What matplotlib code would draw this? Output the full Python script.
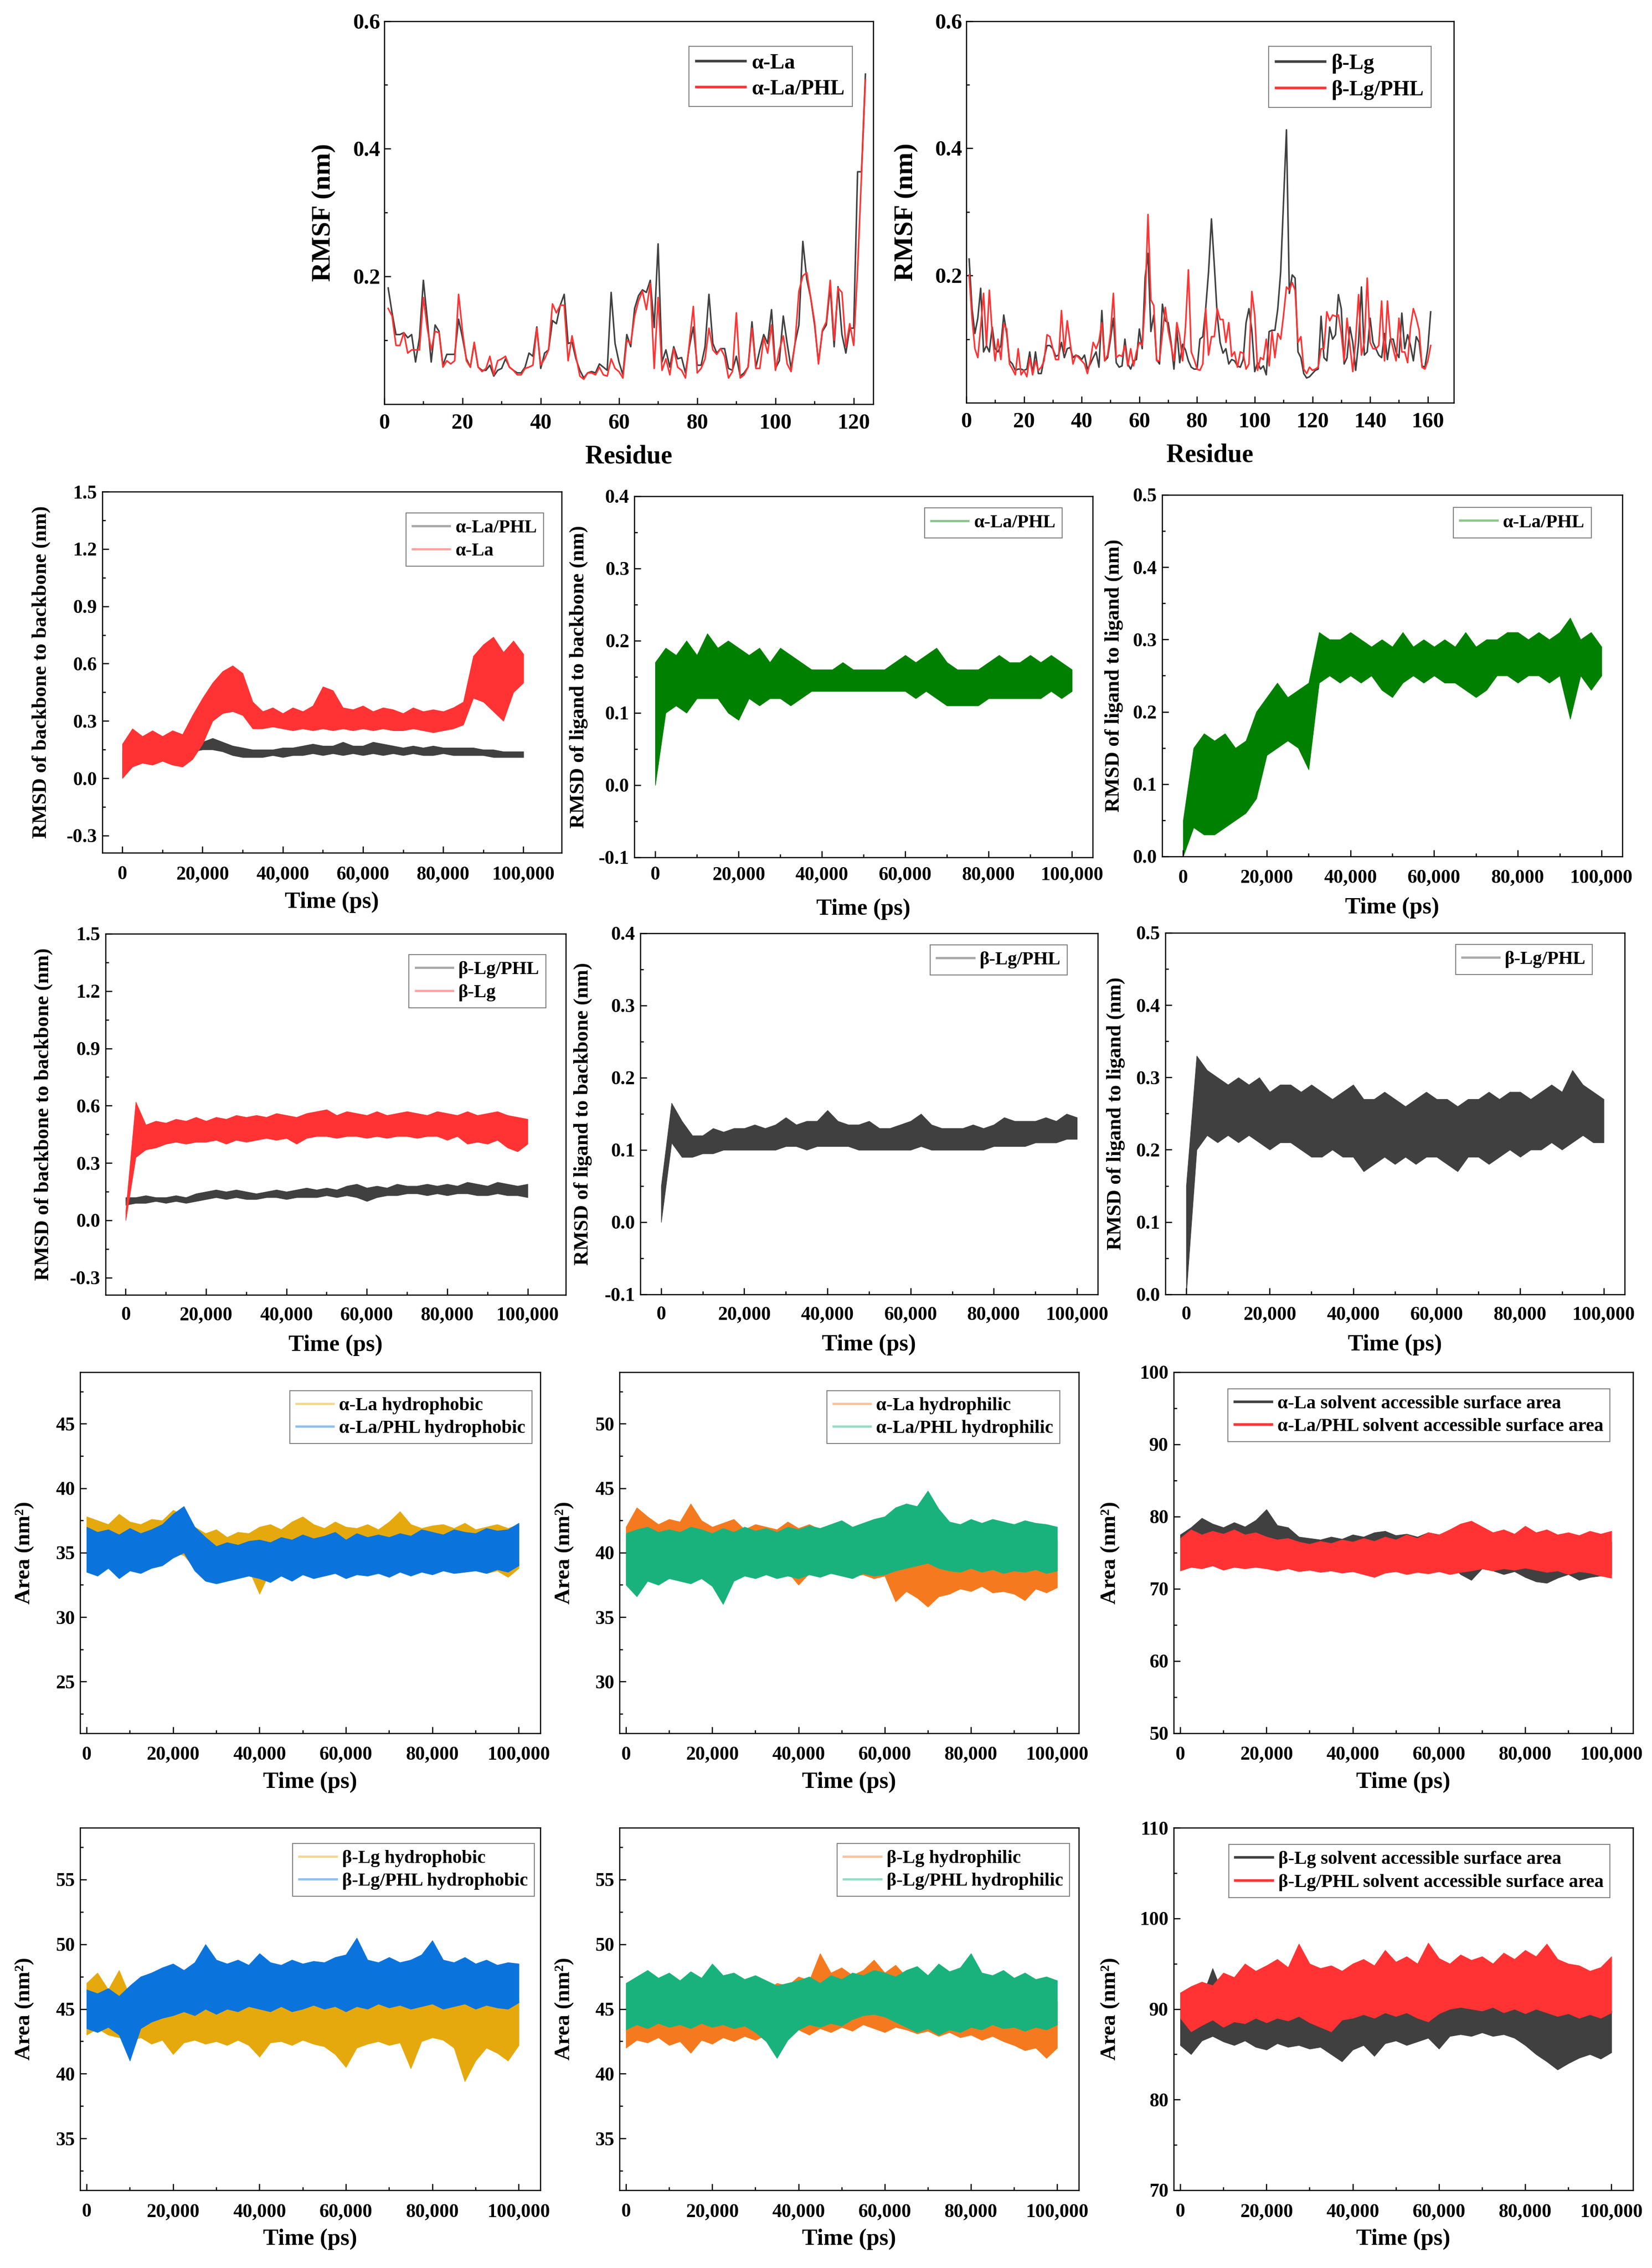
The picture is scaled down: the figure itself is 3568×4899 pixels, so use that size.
import matplotlib
matplotlib.use("Agg")
import matplotlib.pyplot as plt
import numpy as np
from matplotlib.lines import Line2D
from matplotlib.ticker import AutoMinorLocator, FixedLocator, FormatStrFormatter, FuncFormatter, MultipleLocator

plt.rcParams["font.family"] = ["Liberation Serif", "DejaVu Serif"]
plt.rcParams["font.weight"] = "bold"
plt.rcParams["axes.labelweight"] = "bold"
plt.rcParams["axes.unicode_minus"] = False

GRAY = "#404040"
RED = "#ff3333"
GREEN = "#008000"
GOLD = "#e5a90d"
BLUE = "#0b74dc"
ORANGE = "#f57a1f"
TEAL = "#19b27c"

# ---------------- RMSF (per residue) ----------------
la_rmsf = [
    0.182, 0.143, 0.109, 0.109, 0.112, 0.104, 0.109, 0.066, 0.104, 0.194,
    0.133, 0.066, 0.124, 0.114, 0.061, 0.078, 0.078, 0.078, 0.133, 0.104,
    0.071, 0.058, 0.095, 0.058, 0.053, 0.053, 0.061, 0.044, 0.053, 0.056,
    0.071, 0.058, 0.053, 0.049, 0.049, 0.058, 0.080, 0.075, 0.121, 0.056,
    0.080, 0.085, 0.131, 0.126, 0.155, 0.172, 0.095, 0.097, 0.071, 0.053,
    0.041, 0.049, 0.051, 0.049, 0.063, 0.058, 0.053, 0.175, 0.095, 0.066,
    0.046, 0.109, 0.090, 0.150, 0.170, 0.179, 0.175, 0.194, 0.120, 0.251,
    0.066, 0.085, 0.058, 0.090, 0.071, 0.073, 0.049, 0.090, 0.121, 0.061,
    0.061, 0.090, 0.172, 0.095, 0.080, 0.087, 0.087, 0.056, 0.053, 0.075,
    0.044, 0.049, 0.058, 0.129, 0.058, 0.085, 0.109, 0.095, 0.148, 0.056,
    0.068, 0.138, 0.095, 0.056, 0.095, 0.124, 0.255, 0.196, 0.167, 0.124,
    0.066, 0.114, 0.124, 0.184, 0.090, 0.184, 0.109, 0.080, 0.119, 0.119,
    0.364, 0.364, 0.517]
la_phl_rmsf = [
    0.150, 0.138, 0.092, 0.092, 0.112, 0.080, 0.085, 0.085, 0.085, 0.167,
    0.119, 0.085, 0.114, 0.112, 0.058, 0.068, 0.063, 0.068, 0.172, 0.114,
    0.068, 0.058, 0.097, 0.058, 0.051, 0.056, 0.075, 0.046, 0.068, 0.071,
    0.075, 0.058, 0.053, 0.046, 0.046, 0.056, 0.058, 0.061, 0.119, 0.061,
    0.071, 0.085, 0.157, 0.143, 0.155, 0.155, 0.068, 0.107, 0.075, 0.044,
    0.039, 0.049, 0.049, 0.046, 0.058, 0.046, 0.044, 0.071, 0.056, 0.051,
    0.041, 0.100, 0.095, 0.138, 0.162, 0.177, 0.148, 0.189, 0.056, 0.167,
    0.053, 0.071, 0.046, 0.087, 0.058, 0.053, 0.041, 0.095, 0.153, 0.049,
    0.056, 0.071, 0.119, 0.085, 0.078, 0.087, 0.075, 0.041, 0.051, 0.143,
    0.041, 0.046, 0.058, 0.119, 0.056, 0.056, 0.104, 0.080, 0.124, 0.053,
    0.085, 0.107, 0.063, 0.051, 0.095, 0.177, 0.201, 0.206, 0.167, 0.129,
    0.063, 0.116, 0.129, 0.194, 0.100, 0.182, 0.175, 0.090, 0.126, 0.092,
    0.211, 0.360, 0.508]
lg_rmsf = [
    0.226, 0.148, 0.109, 0.133, 0.180, 0.080, 0.090, 0.080, 0.119, 0.085,
    0.080, 0.090, 0.138, 0.109, 0.066, 0.061, 0.051, 0.053, 0.053, 0.051,
    0.053, 0.080, 0.046, 0.080, 0.046, 0.046, 0.071, 0.090, 0.090, 0.085,
    0.073, 0.075, 0.095, 0.071, 0.085, 0.087, 0.071, 0.075, 0.073, 0.068,
    0.075, 0.053, 0.061, 0.071, 0.080, 0.056, 0.145, 0.066, 0.071, 0.100,
    0.133, 0.063, 0.056, 0.058, 0.100, 0.061, 0.053, 0.066, 0.068, 0.116,
    0.085, 0.197, 0.235, 0.112, 0.138, 0.068, 0.061, 0.155, 0.129, 0.126,
    0.095, 0.053, 0.114, 0.063, 0.092, 0.083, 0.066, 0.056, 0.053, 0.053,
    0.100, 0.104, 0.148, 0.206, 0.289, 0.216, 0.138, 0.095, 0.078, 0.085,
    0.061, 0.068, 0.066, 0.058, 0.056, 0.068, 0.126, 0.148, 0.114, 0.049,
    0.063, 0.053, 0.058, 0.044, 0.112, 0.114, 0.114, 0.148, 0.206, 0.318,
    0.429, 0.172, 0.201, 0.196, 0.080, 0.071, 0.046, 0.039, 0.041, 0.046,
    0.051, 0.053, 0.136, 0.071, 0.066, 0.119, 0.100, 0.107, 0.170, 0.148,
    0.061, 0.071, 0.119, 0.095, 0.051, 0.095, 0.182, 0.075, 0.080, 0.133,
    0.095, 0.085, 0.075, 0.071, 0.109, 0.068, 0.100, 0.100, 0.080, 0.071,
    0.141, 0.085, 0.107, 0.090, 0.066, 0.104, 0.095, 0.058, 0.056, 0.085,
    0.143]
lg_phl_rmsf = [
    0.201, 0.133, 0.085, 0.071, 0.119, 0.172, 0.090, 0.177, 0.109, 0.066,
    0.100, 0.068, 0.124, 0.116, 0.061, 0.053, 0.044, 0.085, 0.044, 0.051,
    0.041, 0.071, 0.044, 0.066, 0.051, 0.056, 0.066, 0.107, 0.104, 0.085,
    0.068, 0.068, 0.145, 0.080, 0.129, 0.095, 0.061, 0.075, 0.071, 0.066,
    0.061, 0.046, 0.066, 0.095, 0.085, 0.097, 0.126, 0.066, 0.075, 0.109,
    0.172, 0.071, 0.075, 0.073, 0.090, 0.058, 0.085, 0.058, 0.080, 0.095,
    0.090, 0.157, 0.296, 0.162, 0.153, 0.066, 0.066, 0.109, 0.150, 0.114,
    0.090, 0.066, 0.126, 0.104, 0.066, 0.119, 0.209, 0.080, 0.068, 0.053,
    0.051, 0.061, 0.148, 0.075, 0.104, 0.104, 0.148, 0.131, 0.131, 0.095,
    0.126, 0.073, 0.080, 0.056, 0.080, 0.078, 0.053, 0.061, 0.175, 0.138,
    0.051, 0.071, 0.068, 0.100, 0.058, 0.112, 0.071, 0.109, 0.100, 0.138,
    0.182, 0.177, 0.189, 0.177, 0.095, 0.104, 0.053, 0.046, 0.056, 0.051,
    0.053, 0.056, 0.085, 0.085, 0.143, 0.129, 0.138, 0.136, 0.138, 0.109,
    0.066, 0.133, 0.090, 0.049, 0.100, 0.170, 0.075, 0.095, 0.196, 0.095,
    0.085, 0.085, 0.090, 0.160, 0.066, 0.160, 0.104, 0.085, 0.066, 0.133,
    0.080, 0.080, 0.063, 0.119, 0.148, 0.133, 0.114, 0.056, 0.053, 0.066,
    0.090]

# ---------------- time traces: upper / lower edge of the noise band, every 2500 ps ----------------
time_ps = np.arange(0, 100001, 2500)

# RMSD backbone-backbone, alpha-La
la_bb_hi = [0.18, 0.26, 0.22, 0.25, 0.22, 0.25, 0.23, 0.33, 0.42, 0.50, 0.56, 0.59, 0.55, 0.40, 0.35, 0.37, 0.34, 0.37, 0.35, 0.38, 0.48,
            0.46, 0.37, 0.36, 0.38, 0.35, 0.37, 0.36, 0.34, 0.37, 0.35, 0.36, 0.35, 0.37, 0.40, 0.64, 0.70, 0.74, 0.66, 0.72, 0.65]
la_bb_lo = [0.00, 0.06, 0.08, 0.07, 0.09, 0.07, 0.06, 0.10, 0.18, 0.30, 0.34, 0.35, 0.33, 0.26, 0.26, 0.27, 0.26, 0.25, 0.26, 0.25, 0.26,
            0.25, 0.26, 0.25, 0.26, 0.25, 0.26, 0.25, 0.25, 0.26, 0.25, 0.24, 0.25, 0.26, 0.28, 0.42, 0.40, 0.35, 0.30, 0.45, 0.50]
la_phl_bb_hi = [0.14, 0.18, 0.17, 0.18, 0.17, 0.18, 0.17, 0.19, 0.19, 0.21, 0.19, 0.17, 0.16, 0.15, 0.15, 0.15, 0.16, 0.16, 0.17, 0.18, 0.17,
                0.17, 0.19, 0.17, 0.17, 0.19, 0.18, 0.17, 0.16, 0.17, 0.16, 0.17, 0.16, 0.16, 0.16, 0.16, 0.15, 0.15, 0.14, 0.14, 0.14]
la_phl_bb_lo = [0.02, 0.10, 0.11, 0.10, 0.11, 0.10, 0.12, 0.14, 0.15, 0.15, 0.14, 0.12, 0.11, 0.11, 0.11, 0.12, 0.11, 0.12, 0.12, 0.13, 0.12,
                0.13, 0.12, 0.13, 0.12, 0.13, 0.12, 0.13, 0.12, 0.13, 0.12, 0.12, 0.13, 0.12, 0.12, 0.12, 0.12, 0.11, 0.11, 0.11, 0.11]
# RMSD ligand to backbone / ligand to ligand, alpha-La/PHL
la_lb_hi = [0.17, 0.19, 0.18, 0.20, 0.18, 0.21, 0.19, 0.20, 0.19, 0.18, 0.19, 0.17, 0.19, 0.18, 0.17, 0.16, 0.16, 0.16, 0.17, 0.16, 0.16,
            0.16, 0.16, 0.17, 0.18, 0.17, 0.18, 0.19, 0.17, 0.16, 0.16, 0.16, 0.17, 0.18, 0.17, 0.17, 0.18, 0.17, 0.18, 0.17, 0.16]
la_lb_lo = [0.00, 0.10, 0.11, 0.10, 0.12, 0.12, 0.12, 0.10, 0.09, 0.12, 0.11, 0.12, 0.12, 0.11, 0.12, 0.13, 0.13, 0.13, 0.13, 0.13, 0.13,
            0.13, 0.13, 0.13, 0.13, 0.12, 0.13, 0.12, 0.11, 0.11, 0.11, 0.11, 0.12, 0.12, 0.12, 0.12, 0.12, 0.12, 0.13, 0.12, 0.13]
la_ll_hi = [0.05, 0.15, 0.17, 0.16, 0.17, 0.15, 0.16, 0.20, 0.22, 0.24, 0.22, 0.23, 0.24, 0.31, 0.30, 0.30, 0.31, 0.30, 0.29, 0.30, 0.29,
            0.31, 0.29, 0.30, 0.29, 0.30, 0.29, 0.31, 0.29, 0.30, 0.30, 0.31, 0.31, 0.30, 0.31, 0.30, 0.31, 0.33, 0.30, 0.31, 0.29]
la_ll_lo = [0.00, 0.04, 0.03, 0.03, 0.04, 0.05, 0.06, 0.08, 0.14, 0.15, 0.16, 0.15, 0.12, 0.24, 0.25, 0.24, 0.25, 0.24, 0.25, 0.23, 0.22,
            0.24, 0.25, 0.24, 0.25, 0.24, 0.24, 0.23, 0.22, 0.23, 0.25, 0.25, 0.24, 0.25, 0.25, 0.24, 0.25, 0.19, 0.25, 0.23, 0.25]

# RMSD backbone-backbone, beta-Lg
lg_bb_hi = [0.05, 0.62, 0.50, 0.52, 0.51, 0.53, 0.52, 0.54, 0.52, 0.54, 0.53, 0.55, 0.54, 0.55, 0.54, 0.56, 0.55, 0.54, 0.56, 0.57, 0.58,
            0.55, 0.57, 0.56, 0.55, 0.57, 0.55, 0.56, 0.57, 0.56, 0.55, 0.57, 0.56, 0.55, 0.57, 0.55, 0.56, 0.57, 0.55, 0.54, 0.53]
lg_bb_lo = [0.00, 0.33, 0.37, 0.38, 0.40, 0.41, 0.40, 0.41, 0.41, 0.42, 0.40, 0.42, 0.41, 0.42, 0.43, 0.42, 0.43, 0.40, 0.43, 0.44, 0.44,
            0.43, 0.44, 0.44, 0.43, 0.44, 0.43, 0.44, 0.44, 0.43, 0.44, 0.44, 0.42, 0.44, 0.40, 0.41, 0.40, 0.42, 0.38, 0.36, 0.40]
lg_phl_bb_hi = [0.12, 0.12, 0.13, 0.12, 0.12, 0.13, 0.12, 0.14, 0.15, 0.16, 0.15, 0.16, 0.15, 0.14, 0.15, 0.16, 0.15, 0.16, 0.17, 0.16, 0.17,
                0.16, 0.18, 0.19, 0.17, 0.18, 0.17, 0.19, 0.18, 0.18, 0.19, 0.18, 0.19, 0.18, 0.20, 0.19, 0.18, 0.20, 0.19, 0.18, 0.19]
lg_phl_bb_lo = [0.08, 0.09, 0.09, 0.10, 0.09, 0.10, 0.09, 0.10, 0.11, 0.12, 0.11, 0.12, 0.11, 0.11, 0.12, 0.12, 0.11, 0.12, 0.12, 0.12, 0.13,
                0.12, 0.13, 0.12, 0.10, 0.12, 0.13, 0.13, 0.14, 0.14, 0.13, 0.14, 0.13, 0.14, 0.14, 0.13, 0.13, 0.14, 0.13, 0.13, 0.12]
# RMSD ligand to backbone / ligand to ligand, beta-Lg/PHL
lg_lb_hi = [0.05, 0.165, 0.14, 0.12, 0.12, 0.13, 0.125, 0.13, 0.13, 0.135, 0.13, 0.135, 0.145, 0.135, 0.14, 0.14, 0.155, 0.14, 0.135, 0.135,
            0.14, 0.13, 0.13, 0.135, 0.14, 0.15, 0.135, 0.13, 0.13, 0.13, 0.135, 0.13, 0.135, 0.145, 0.14, 0.14, 0.14, 0.145, 0.14, 0.15, 0.145]
lg_lb_lo = [0.00, 0.11, 0.09, 0.09, 0.095, 0.095, 0.10, 0.10, 0.10, 0.10, 0.10, 0.10, 0.105, 0.105, 0.10, 0.105, 0.105, 0.105, 0.105, 0.10,
            0.10, 0.10, 0.10, 0.10, 0.10, 0.105, 0.10, 0.10, 0.10, 0.10, 0.10, 0.10, 0.105, 0.105, 0.105, 0.105, 0.11, 0.11, 0.11, 0.115, 0.115]
lg_ll_hi = [0.15, 0.33, 0.31, 0.30, 0.29, 0.30, 0.29, 0.30, 0.28, 0.29, 0.29, 0.28, 0.29, 0.28, 0.27, 0.28, 0.29, 0.27, 0.27, 0.28, 0.27,
            0.26, 0.27, 0.28, 0.27, 0.27, 0.26, 0.27, 0.27, 0.28, 0.27, 0.28, 0.28, 0.27, 0.28, 0.29, 0.28, 0.31, 0.29, 0.28, 0.27]
lg_ll_lo = [0.00, 0.20, 0.22, 0.21, 0.22, 0.21, 0.22, 0.21, 0.20, 0.21, 0.21, 0.20, 0.19, 0.19, 0.20, 0.19, 0.19, 0.17, 0.18, 0.19, 0.18,
            0.19, 0.18, 0.19, 0.19, 0.18, 0.17, 0.19, 0.19, 0.18, 0.19, 0.20, 0.19, 0.20, 0.20, 0.21, 0.20, 0.21, 0.22, 0.21, 0.21]

# SASA alpha-La (nm^2)
la_phob_hi = [37.8, 37.5, 37.2, 38.0, 37.4, 37.2, 37.6, 37.5, 38.3, 37.9, 37.0, 36.5, 36.8, 36.2, 36.6, 36.5, 37.0, 37.2, 36.8, 37.4, 37.8,
              37.2, 36.9, 37.4, 37.0, 36.9, 37.2, 36.8, 37.4, 38.2, 37.2, 36.9, 37.1, 37.2, 36.9, 37.3, 36.8, 37.0, 37.2, 36.9, 37.2]
la_phob_lo = [34.0, 33.8, 34.2, 33.5, 34.2, 33.8, 34.4, 34.5, 35.0, 34.8, 33.8, 33.6, 33.4, 33.8, 33.5, 33.7, 31.8, 33.6, 33.5, 33.8, 33.4,
              33.8, 33.6, 33.9, 33.6, 33.8, 33.5, 33.7, 33.6, 33.8, 33.5, 33.8, 33.7, 33.6, 33.9, 33.5, 33.8, 33.4, 33.6, 33.1, 33.8]
la_phl_phob_hi = [37.0, 36.6, 36.8, 36.4, 36.9, 36.5, 36.8, 37.2, 38.0, 38.6, 37.0, 36.2, 35.5, 35.8, 35.6, 35.9, 36.0, 35.8, 36.2, 36.0, 36.4,
                  36.1, 36.3, 36.6, 36.0, 36.5, 36.2, 36.4, 36.2, 36.5, 36.3, 36.8, 36.6, 36.4, 36.8, 36.6, 36.5, 36.9, 36.7, 36.8, 37.3]
la_phl_phob_lo = [33.5, 33.2, 33.8, 33.0, 33.6, 33.4, 33.8, 34.0, 34.6, 35.0, 33.6, 32.8, 32.6, 32.8, 33.0, 33.2, 33.0, 32.7, 33.2, 32.8, 33.3,
                  33.0, 33.2, 33.4, 33.0, 33.3, 33.2, 33.4, 33.1, 33.5, 33.2, 33.5, 33.3, 33.6, 33.4, 33.5, 33.6, 33.4, 33.7, 33.5, 34.0]
la_phil_hi = [42.0, 43.5, 42.8, 42.2, 42.6, 42.4, 43.8, 42.5, 42.0, 42.3, 42.6, 41.8, 42.2, 42.0, 41.8, 42.4, 41.9, 42.2, 41.8, 42.0, 42.2,
              41.6, 41.9, 42.0, 41.5, 41.8, 41.0, 40.8, 41.2, 41.5, 40.8, 41.6, 41.2, 41.6, 41.0, 41.3, 41.0, 41.5, 41.2, 41.6, 41.0]
la_phil_lo = [38.5, 38.8, 38.6, 39.0, 38.5, 38.8, 38.6, 38.9, 38.4, 38.6, 38.3, 38.7, 38.4, 38.6, 38.3, 38.5, 37.5, 38.4, 38.3, 38.6, 38.4,
              38.2, 38.3, 38.0, 38.2, 36.2, 37.0, 36.5, 35.8, 36.6, 36.8, 37.2, 37.0, 37.4, 36.9, 37.0, 36.8, 36.3, 37.2, 36.9, 37.3]
la_phl_phil_hi = [41.5, 41.8, 42.0, 41.6, 41.8, 41.6, 42.0, 41.8, 41.5, 41.9, 41.6, 42.0, 41.7, 41.9, 41.6, 42.0, 41.8, 42.1, 41.9, 42.2, 42.5,
                  42.0, 42.3, 42.6, 42.8, 43.5, 43.8, 43.6, 44.8, 43.4, 42.4, 42.2, 42.6, 42.3, 42.6, 42.4, 42.2, 42.5, 42.3, 42.2, 42.0]
la_phl_phil_lo = [37.5, 36.6, 37.8, 37.5, 38.0, 37.8, 37.6, 38.0, 37.4, 36.0, 37.8, 38.2, 38.0, 38.3, 38.0, 38.2, 38.0, 38.3, 38.1, 38.4, 38.2,
                  38.0, 38.4, 38.2, 38.3, 38.6, 38.8, 39.0, 39.2, 38.8, 38.6, 38.5, 38.8, 38.5, 38.7, 38.4, 38.6, 38.5, 38.7, 38.4, 38.6]
la_sasa_hi = [77.5, 78.5, 79.8, 79.0, 78.5, 79.2, 78.6, 79.5, 81.0, 78.8, 78.5, 77.2, 77.0, 76.8, 77.2, 76.9, 77.5, 77.2, 77.8, 78.0, 77.4,
              77.6, 77.2, 77.8, 77.5, 77.2, 77.6, 77.3, 77.0, 76.5, 76.2, 76.6, 76.0, 76.4, 76.1, 75.8, 76.3, 76.0, 75.8, 76.2, 76.5]
la_sasa_lo = [73.5, 74.0, 74.5, 74.2, 74.5, 74.0, 74.3, 74.0, 74.2, 74.0, 73.8, 73.2, 73.0, 73.4, 73.1, 73.5, 73.3, 73.6, 73.4, 73.8, 73.5,
              73.2, 73.6, 73.4, 73.2, 73.5, 72.0, 71.2, 72.8, 72.5, 72.0, 72.4, 71.6, 71.0, 70.8, 71.5, 72.0, 71.2, 71.6, 71.8, 72.0]
la_phl_sasa_hi = [77.0, 78.2, 77.5, 78.0, 77.6, 78.2, 77.5, 77.8, 77.2, 76.8, 77.0, 76.5, 76.2, 76.6, 76.3, 76.8, 76.5, 77.0, 76.6, 77.2, 76.8,
                  77.5, 77.0, 77.8, 77.5, 78.2, 79.0, 79.4, 78.6, 77.8, 78.2, 77.6, 78.7, 77.8, 78.2, 77.5, 77.8, 77.4, 78.0, 77.6, 78.0]
la_phl_sasa_lo = [72.5, 73.0, 72.8, 73.2, 72.6, 73.0, 72.8, 73.0, 72.8, 72.5, 72.8, 72.4, 72.6, 72.3, 72.5, 72.2, 72.4, 72.0, 71.6, 72.2, 72.4,
                  72.0, 72.3, 72.1, 72.4, 72.0, 72.3, 72.5, 72.8, 72.5, 72.8, 72.6, 72.9, 72.6, 72.3, 72.5, 72.0, 72.4, 72.2, 71.8, 71.5]

# SASA beta-Lg (nm^2)
lg_phob_hi = [47.0, 47.8, 46.5, 48.0, 46.0, 45.5, 46.2, 45.4, 45.6, 45.2, 45.8, 45.3, 45.6, 45.2, 45.8, 45.4, 45.6, 45.3, 45.7, 45.5, 45.8,
              45.4, 45.6, 46.0, 45.5, 46.2, 45.8, 45.5, 46.0, 45.6, 45.8, 45.4, 46.0, 45.9, 45.5, 45.8, 46.1, 45.4, 45.8, 45.5, 45.6]
lg_phob_lo = [43.0, 43.5, 43.0, 42.8, 42.5, 42.8, 42.3, 42.6, 41.5, 42.4, 42.6, 42.3, 42.5, 42.2, 42.6, 42.2, 41.3, 42.4, 42.5, 42.2, 42.6,
              42.3, 42.1, 41.5, 40.5, 42.0, 42.3, 42.5, 42.2, 42.4, 40.4, 42.5, 42.8, 42.6, 42.0, 39.4, 41.0, 42.0, 41.6, 41.0, 42.2]
lg_phl_phob_hi = [46.5, 46.2, 46.6, 46.0, 46.8, 47.5, 47.8, 48.2, 48.5, 48.0, 48.6, 50.0, 48.8, 48.5, 48.8, 48.4, 49.3, 48.6, 48.4, 48.8, 48.5,
                  48.7, 48.6, 49.0, 49.2, 50.5, 48.8, 48.6, 49.0, 48.6, 48.8, 49.2, 50.3, 48.8, 48.6, 49.0, 48.5, 48.8, 48.4, 48.6, 48.5]
lg_phl_phob_lo = [43.5, 43.2, 43.6, 43.0, 41.0, 43.5, 44.0, 44.3, 44.5, 44.8, 44.5, 45.0, 44.6, 45.0, 44.8, 45.2, 45.0, 44.8, 45.2, 44.8, 45.0,
                  45.3, 45.0, 45.2, 44.8, 45.2, 45.0, 45.4, 45.1, 45.3, 45.0, 45.2, 45.4, 45.0, 45.2, 45.4, 45.0, 45.3, 45.1, 45.0, 45.5]
lg_phil_hi = [46.5, 47.2, 46.5, 47.0, 46.2, 46.8, 46.4, 46.8, 46.2, 46.6, 46.3, 46.5, 46.8, 46.4, 47.0, 46.8, 47.5, 47.2, 49.3, 47.8, 48.2,
              47.6, 48.0, 48.8, 47.8, 48.4, 47.5, 47.9, 47.2, 47.0, 47.3, 46.8, 47.2, 46.9, 47.0, 46.6, 46.2, 46.5, 45.8, 46.3, 45.6]
lg_phil_lo = [42.0, 42.6, 42.4, 42.8, 42.2, 42.5, 41.6, 42.6, 42.3, 42.8, 42.5, 42.9, 42.6, 43.0, 42.8, 43.2, 43.4, 43.0, 43.5, 43.2, 43.6,
              43.3, 43.8, 43.5, 43.2, 43.6, 43.4, 43.1, 43.3, 42.9, 43.2, 42.8, 43.0, 42.6, 42.9, 42.5, 42.2, 41.8, 42.0, 41.2, 42.0]
lg_phl_phil_hi = [47.0, 47.5, 48.0, 47.4, 47.8, 47.2, 47.9, 47.4, 48.5, 47.6, 47.8, 47.3, 47.6, 47.2, 46.8, 47.0, 47.2, 47.5, 47.0, 47.6, 47.3,
                  47.8, 47.6, 48.0, 47.8, 47.5, 48.0, 48.3, 47.6, 48.5, 47.9, 48.2, 49.3, 47.8, 47.6, 48.0, 47.4, 47.8, 47.3, 47.5, 47.2]
lg_phl_phil_lo = [43.4, 43.8, 43.5, 43.9, 43.6, 43.8, 43.5, 43.9, 43.6, 43.8, 43.5, 43.7, 43.2, 42.5, 41.2, 42.6, 43.4, 43.8, 43.6, 43.9, 43.7,
                  44.2, 44.5, 44.6, 44.4, 44.0, 43.6, 43.2, 43.5, 43.0, 43.4, 43.2, 43.6, 43.4, 43.8, 43.5, 43.6, 43.3, 43.6, 43.4, 43.8]
lg_sasa_hi = [91.0, 90.5, 91.2, 94.5, 91.5, 91.0, 91.4, 91.0, 91.5, 90.8, 91.2, 90.8, 91.0, 90.5, 91.2, 90.8, 91.4, 91.0, 91.6, 91.2, 91.0,
              91.5, 91.2, 91.8, 91.4, 92.0, 93.5, 92.5, 91.8, 91.5, 91.2, 91.6, 91.0, 90.6, 90.2, 90.0, 89.8, 90.2, 89.6, 90.0, 89.8]
lg_sasa_lo = [86.0, 85.0, 86.5, 87.0, 86.4, 86.0, 86.5, 85.8, 85.5, 86.2, 85.8, 86.0, 85.6, 85.8, 85.0, 84.2, 85.5, 86.0, 84.8, 86.2, 86.5,
              86.0, 86.4, 86.8, 85.6, 87.0, 87.2, 87.0, 87.4, 87.0, 87.2, 86.8, 86.0, 85.0, 84.2, 83.3, 84.0, 84.6, 85.0, 84.5, 85.2]
lg_phl_sasa_hi = [91.8, 92.5, 93.0, 92.6, 94.0, 93.5, 95.0, 94.2, 94.8, 95.5, 94.6, 97.2, 95.0, 94.5, 94.8, 94.2, 95.0, 95.5, 94.8, 96.5, 95.2,
                  95.8, 95.0, 97.3, 95.6, 95.0, 96.0, 95.4, 95.8, 95.0, 96.2, 95.5, 96.5, 95.8, 97.2, 95.5, 95.0, 94.8, 94.2, 94.6, 95.8]
lg_phl_sasa_lo = [89.0, 87.5, 88.2, 88.8, 88.0, 88.6, 88.4, 89.0, 88.5, 89.0, 88.7, 89.2, 88.5, 88.0, 87.5, 88.8, 89.0, 89.4, 89.0, 89.6, 89.2,
                  89.6, 89.0, 88.6, 89.5, 90.0, 90.2, 90.0, 89.8, 90.2, 89.6, 90.0, 89.5, 90.0, 89.6, 89.2, 89.5, 89.0, 89.4, 89.0, 89.6]


def style(ax, fs, xpad, ypad, xminor, yminor):
    for sp in ax.spines.values():
        sp.set_linewidth(1.8)
    ax.tick_params(which="both", direction="in", top=False, right=False, width=1.8, labelsize=fs)
    ax.tick_params(which="major", length=10)
    ax.tick_params(which="minor", length=5)
    ax.tick_params(axis="x", which="major", pad=xpad)
    ax.tick_params(axis="y", which="major", pad=ypad)
    ax.xaxis.set_minor_locator(xminor)
    ax.yaxis.set_minor_locator(yminor)
    for lab in ax.get_xticklabels() + ax.get_yticklabels():
        lab.set_fontweight("bold")


def add_legend(ax, handles, labels, anchor, fs, hlen=2.0):
    leg = ax.legend(handles, labels, loc="upper right", bbox_to_anchor=anchor, borderaxespad=0,
                    fancybox=False, edgecolor="#808080", fontsize=fs, handlelength=hlen,
                    handletextpad=0.3, borderpad=0.35, labelspacing=0.3, framealpha=1)
    leg.get_frame().set_linewidth(1.5)
    for t in leg.get_texts():
        t.set_fontweight("bold")


def time_axes(ax, ylim, ystep, yfmt, xlim, xpad=20):
    ax.set_xlim(*xlim)
    ax.set_ylim(*ylim)
    ax.xaxis.set_major_locator(MultipleLocator(20000))
    ax.xaxis.set_major_formatter(FuncFormatter(lambda v, p: f"{int(v):,}"))
    ax.yaxis.set_major_locator(MultipleLocator(ystep))
    ax.yaxis.set_major_formatter(FormatStrFormatter(yfmt))
    style(ax, 30, xpad, 8, AutoMinorLocator(2), AutoMinorLocator(2))
    ax.set_xlabel("Time (ps)", fontsize=36, fontweight="bold")


def band(ax, hi, lo, color):
    ax.fill_between(time_ps, lo, hi, color=color, lw=0.8)


def pale(color):
    return Line2D([], [], color=color, lw=3.5, alpha=0.45)


def solid(color):
    return Line2D([], [], color=color, lw=4)


fig = plt.figure(figsize=(35.68, 48.99), dpi=100)

# ---------- row 1: RMSF ----------
for pos, black, red, names, xmax, anchor in [
    ([0.2326, 0.8218, 0.2960, 0.1689], la_rmsf, la_phl_rmsf, ["α-La", "α-La/PHL"], 125, (0.957, 0.934)),
    ([0.5849, 0.8224, 0.2951, 0.1683], lg_rmsf, lg_phl_rmsf, ["β-Lg", "β-Lg/PHL"], 169, (0.954, 0.934)),
]:
    ax = fig.add_axes(pos)
    ax.plot(np.arange(1, len(black) + 1), black, color=GRAY, lw=2.4)
    ax.plot(np.arange(1, len(red) + 1), red, color=RED, lw=2.4)
    ax.set_xlim(0, xmax)
    ax.set_ylim(0, 0.6)
    ax.xaxis.set_major_locator(MultipleLocator(20))
    ax.yaxis.set_major_locator(FixedLocator([0.2, 0.4, 0.6]))
    ax.yaxis.set_major_formatter(FormatStrFormatter("%.1f"))
    style(ax, 34, 15, 6, MultipleLocator(10), FixedLocator([0.1, 0.3, 0.5]))
    ax.set_xlabel("Residue", fontsize=40, fontweight="bold")
    ax.set_ylabel("RMSF (nm)", fontsize=42, fontweight="bold")
    ax.yaxis.set_label_coords(-0.099, 0.5)
    ax.xaxis.set_label_coords(0.5, -0.106)
    add_legend(ax, [solid(GRAY), solid(RED)], names, anchor, 33, hlen=2.3)

# ---------- rows 2-3: RMSD ----------
rmsd_rows = [
    (0.6240, 0.6220, 0.6224, [0.0619, 0.3840, 0.7035], [0.2780, 0.2775, 0.2786],
     (la_phl_bb_hi, la_phl_bb_lo), (la_bb_hi, la_bb_lo), ["α-La/PHL", "α-La"], GREEN,
     (la_lb_hi, la_lb_lo), (la_ll_hi, la_ll_lo), "α-La/PHL",
     [-0.113, -0.101, -0.085], [-0.107, -0.114, -0.113],
     [(0.961, 0.941), (0.933, 0.968), (0.932, 0.965)], [20, 14, 20]),
    (0.4291, 0.4293, 0.4293, [0.0639, 0.3876, 0.7054], [0.2786, 0.2769, 0.2780],
     (lg_phl_bb_hi, lg_phl_bb_lo), (lg_bb_hi, lg_bb_lo), ["β-Lg/PHL", "β-Lg"], GRAY,
     (lg_lb_hi, lg_lb_lo), (lg_ll_hi, lg_ll_lo), "β-Lg/PHL",
     [-0.115, -0.105, -0.088], [-0.110, -0.110, -0.110],
     [(0.957, 0.942), (0.933, 0.968), (0.930, 0.968)], [18, 18, 18]),
]
for bA, bB, bC, lefts, widths, cplx, prot, names, lig_col, lb, ll, lig_name, ylc, xlc, anchors, xpads in rmsd_rows:
    axA = fig.add_axes([lefts[0], bA, widths[0], 0.1592])
    band(axA, cplx[0], cplx[1], GRAY)
    band(axA, prot[0], prot[1], RED)
    time_axes(axA, (-0.39, 1.5), 0.3, "%.1f", (-5000, 109500), xpads[0])
    axA.set_ylabel("RMSD of backbone to backbone (nm)", fontsize=32, fontweight="bold")
    add_legend(axA, [pale(GRAY), pale(RED)], names, anchors[0], 29)

    axB = fig.add_axes([lefts[1], bB, widths[1], 0.1592])
    band(axB, lb[0], lb[1], lig_col)
    time_axes(axB, (-0.1, 0.4), 0.1, "%.1f", (-5000, 105000), xpads[1])
    axB.set_ylabel("RMSD of ligand to backbone (nm)", fontsize=32, fontweight="bold")
    add_legend(axB, [pale(lig_col)], [lig_name], anchors[1], 29)

    axC = fig.add_axes([lefts[2], bC, widths[2], 0.1594])
    band(axC, ll[0], ll[1], lig_col)
    time_axes(axC, (0, 0.5), 0.1, "%.1f", (-5000, 105000), xpads[2])
    axC.set_ylabel("RMSD of ligand to ligand (nm)", fontsize=32, fontweight="bold")
    add_legend(axC, [pale(lig_col)], [lig_name], anchors[2], 29)

    for ax, yx, xy in zip([axA, axB, axC], ylc, xlc):
        ax.yaxis.set_label_coords(yx, 0.5)
        ax.xaxis.set_label_coords(0.5, xy)

# ---------- rows 4-5: SASA ----------
sasa_rows = [
    (0.2358, 0.1592, "α-La",
     [(la_phob_hi, la_phob_lo, GOLD), (la_phl_phob_hi, la_phl_phob_lo, BLUE)], (21, 49),
     [(la_phil_hi, la_phil_lo, ORANGE), (la_phl_phil_hi, la_phl_phil_lo, TEAL)], (26, 54),
     [(la_sasa_hi, la_sasa_lo, GRAY), (la_phl_sasa_hi, la_phl_sasa_lo, RED)], (50, 100),
     [(0.982, 0.949), (0.959, 0.949), (0.95, 0.954)], -0.106),
    (0.0343, 0.1598, "β-Lg",
     [(lg_phob_hi, lg_phob_lo, GOLD), (lg_phl_phob_hi, lg_phl_phob_lo, BLUE)], (31, 59),
     [(lg_phil_hi, lg_phil_lo, ORANGE), (lg_phl_phil_hi, lg_phl_phil_lo, TEAL)], (31, 59),
     [(lg_sasa_hi, lg_sasa_lo, GRAY), (lg_phl_sasa_hi, lg_phl_sasa_lo, RED)], (70, 110),
     [(0.987, 0.957), (0.98, 0.957), (0.95, 0.954)], -0.106),
]
for bottom, height, prot, phob, ylim_a, phil, ylim_b, sasa, ylim_c, anchors, xly in sasa_rows:
    panels = [
        ([0.0485, bottom, 0.2786, height], phob, ylim_a, 5,
         [prot + " hydrophobic", prot + "/PHL hydrophobic"], pale, -0.100),
        ([0.3750, bottom, 0.2780, height], phil, ylim_b, 5,
         [prot + " hydrophilic", prot + "/PHL hydrophilic"], pale, -0.099),
        ([0.7105, bottom, 0.2780, height], sasa, ylim_c, 10,
         [prot + " solvent accessible surface area", prot + "/PHL solvent accessible surface area"], solid, -0.117),
    ]
    for (pos, series, ylim, ystep, names, hstyle, ylx), anchor in zip(panels, anchors):
        ax = fig.add_axes(pos)
        for hi, lo, col in series:
            band(ax, hi, lo, col)
        time_axes(ax, ylim, ystep, "%d", (-1500, 105000), 20)
        ax.set_ylabel("Area (nm²)", fontsize=34, fontweight="bold")
        ax.yaxis.set_label_coords(ylx, 0.5)
        ax.xaxis.set_label_coords(0.5, xly)
        add_legend(ax, [hstyle(s[2]) for s in series], names, anchor, 29)

fig.savefig("out.png", dpi=100)
